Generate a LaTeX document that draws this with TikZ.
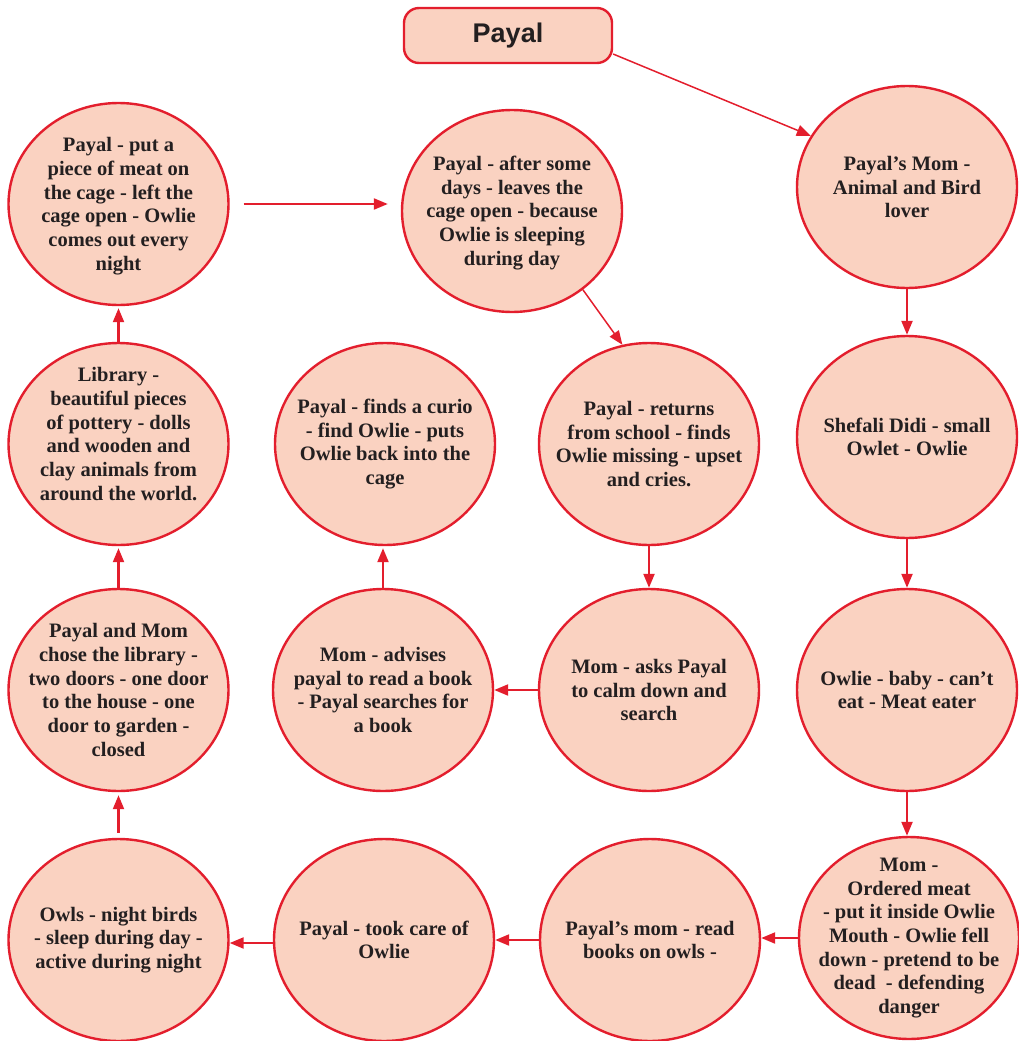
\documentclass[tikz,border=0pt]{standalone}
\usepackage{fontspec}
\setmainfont{Liberation Serif}
\newfontfamily\titlefont{Liberation Sans}
\usetikzlibrary{arrows.meta,shapes.geometric}
\definecolor{bubfill}{HTML}{FAD2C1}
\definecolor{bubline}{HTML}{E31E2D}
\definecolor{txtcol}{HTML}{231F20}
\begin{document}
\begin{tikzpicture}[x=1pt,y=-1pt,
  bub/.style={ellipse, draw=bubline, fill=bubfill, line width=2.4pt,
    minimum width=220pt, minimum height=202pt, inner sep=0pt},
  txt/.style={align=center, text=txtcol, inner sep=0pt,
    font=\fontsize{20.5}{23.7}\selectfont\bfseries},
  arr/.style={draw=bubline, line width=2.2pt, -{Triangle[length=14pt,width=11pt]}},
  thinarr/.style={draw=bubline, line width=1.5pt, -{Triangle[length=14pt,width=11pt]}}]
\useasboundingbox (0,0) rectangle (1019,1041);

% title
\node[draw=bubline, fill=bubfill, line width=2.4pt, rounded corners=15pt,
  minimum width=208pt, minimum height=55pt, inner sep=0pt,
  text=txtcol, font=\titlefont\fontsize{27}{30}\selectfont\bfseries] (payal) at (508,35.5) {Payal};

% row 1
\node[bub] (c1) at (118.5,204) {};
\node[bub] (c2) at (512,211) {};
\node[bub] (c3) at (907,187) {};
% row 2
\node[bub] (c4) at (118.5,444) {};
\node[bub] (c5) at (385,444) {};
\node[bub] (c6) at (649,444) {};
\node[bub] (c7) at (907,437) {};
% row 3
\node[bub] (c8) at (118.5,690) {};
\node[bub] (c9) at (383,690) {};
\node[bub] (c10) at (649,690) {};
\node[bub] (c11) at (907,690) {};
% row 4
\node[bub] (c12) at (118.5,940) {};
\node[bub] (c13) at (384,940) {};
\node[bub] (c14) at (650,940) {};
\node[bub] (c15) at (909,938) {};

% texts
\node[txt] (t1) at ([yshift=-2pt]c1) {Payal - put a\\piece of meat on\\the cage - left the\\cage open - Owlie\\comes out every\\night};
\node[txt] (t2) at ([yshift=-2pt]c2) {Payal - after some\\days - leaves the\\cage open - because\\Owlie is sleeping\\during day};
\node[txt] (t3) at (c3) {Payal’s Mom -\\Animal and Bird\\lover};
\node[txt] (t4) at ([yshift=10pt]c4) {Library -\\beautiful pieces\\of pottery - dolls\\and wooden and\\clay animals from\\around the world.};
\node[txt] (t5) at (c5) {Payal - finds a curio\\- find Owlie - puts\\Owlie back into the\\cage};
\node[txt] (t6) at (c6) {Payal - returns\\from school - finds\\Owlie missing - upset\\and cries.};
\node[txt] (t7) at (c7) {Shefali Didi - small\\Owlet - Owlie};
\node[txt] (t8) at (c8) {Payal and Mom\\chose the library -\\two doors - one door\\to the house - one\\door to garden -\\closed};
\node[txt] (t9) at (c9) {Mom - advises\\payal to read a book\\- Payal searches for\\a book};
\node[txt] (t10) at (c10) {Mom - asks Payal\\to calm down and\\search};
\node[txt] (t11) at (c11) {Owlie - baby - can’t\\eat - Meat eater};
\node[txt] (t12) at (c12) {Owls - night birds\\- sleep during day -\\active during night};
\node[txt] (t13) at (c13) {Payal - took care of\\Owlie};
\node[txt] (t14) at (c14) {Payal’s mom - read\\books on owls -};
\node[txt] (t15) at (c15) {Mom -\\Ordered meat\\- put it inside Owlie\\Mouth - Owlie fell\\down - pretend to be\\dead\ \ - defending\\danger};

% connectors
\draw[thinarr] (payal.-10) -- (c3.152);
\draw[arr, shorten <=14pt, shorten >=13pt] (c1.east) -- (c1.east -| c2.west);
\draw[thinarr] (c2.-48) -- (c6.105);
\draw[arr] (c3.south) -- (c7.north);
\draw[arr] (c7.south) -- (c11.north);
\draw[arr] (c11.south) -- (c15.north -| c11.south);
\draw[arr] (c15.west) -- (c15.west -| c14.east);
\draw[arr] (c14.west) -- (c14.west -| c13.east);
\draw[arr] ([yshift=-3pt]c13.west) -- ([yshift=-3pt]c13.west -| c12.east);
\draw[arr, shorten <=5pt, shorten >=3pt] (c12.north) -- (c8.south);
\draw[arr, shorten >=2pt] (c8.north) -- (c4.south);
\draw[arr, shorten >=2pt] (c4.north) -- (c1.south);
\draw[arr] (c10.west) -- (c10.west -| c9.east);
\draw[arr, shorten >=2pt] (c9.north) -- (c9.north |- c5.south);
\draw[arr] (c6.south) -- (c10.north);
\end{tikzpicture}
\end{document}
